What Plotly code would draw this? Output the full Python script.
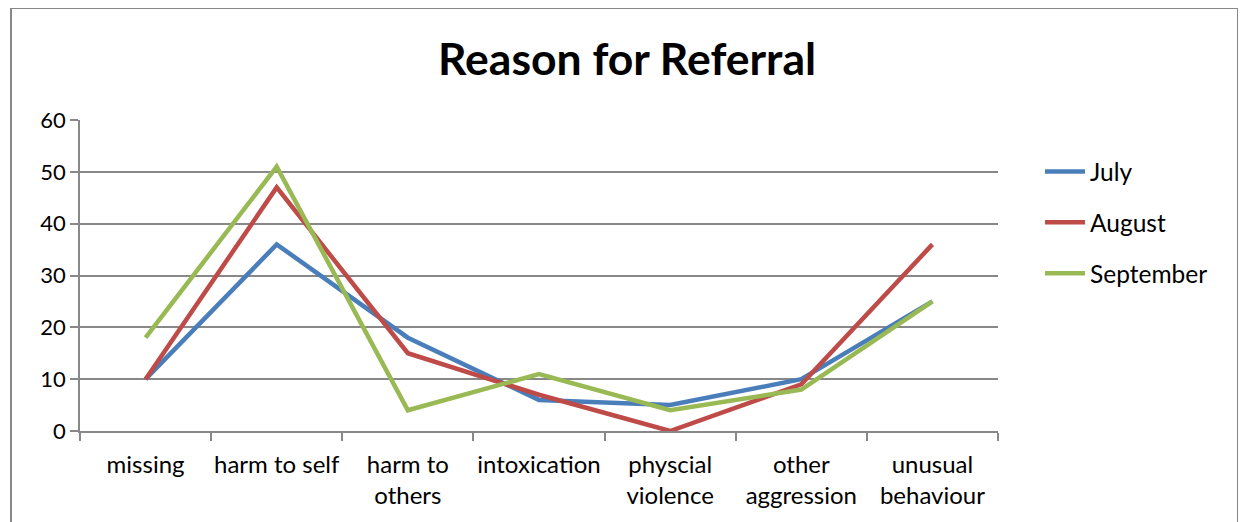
import plotly.graph_objects as go

categories = ["missing", "harm to self", "harm to<br>others", "intoxication",
              "physcial<br>violence", "other<br>aggression", "unusual<br>behaviour"]
july = [10, 36, 18, 6, 5, 10, 25]
august = [10, 47, 15, 7, 0, 9, 36]
september = [18, 51, 4, 11, 4, 8, 25]
series_names = ["July", "August", "September"]
colors = ["#4A7EBB", "#BE4B48", "#98B954"]

FONT = "Lato"
fig = go.Figure()
for i, (name, vals) in enumerate(zip(series_names, [july, august, september])):
    fig.add_trace(go.Scatter(x=categories, y=vals, mode="lines", name=name,
                             legendgroup=name,
                             line=dict(color=colors[i], width=4.5)))

grid = "#888888"
# page has an 8px body margin, so figure coords = page coords - 8
L, T, R, B = 72, 112, 990, 423
W, H = 1246, 522
pw, ph = R - L, B - T
fig.update_layout(
    width=W, height=H,
    margin=dict(l=L, r=W - R, t=T, b=H - B, autoexpand=False),
    paper_bgcolor="white", plot_bgcolor="white",
    title=dict(text="<b>Reason for Referral</b>", x=(619 - L) / pw, xanchor="center",
               xref="paper", y=1 - 51 / H, yanchor="middle",
               font=dict(family=FONT, size=44.5, color="black")),
    font=dict(family=FONT, size=22, color="black"),
    showlegend=True,
    legend=dict(x=(1032 - L) / pw, xanchor="left", y=(B - 141) / ph, yanchor="top",
                traceorder="grouped", tracegroupgap=16,
                font=dict(family=FONT, size=24.5, color="black"),
                itemwidth=40),
    xaxis=dict(type="category", showgrid=False, showline=True, linecolor=grid,
               linewidth=1.5, ticks="outside", tickson="boundaries", ticklen=8,
               tickcolor=grid, tickwidth=1.5, range=[-0.5, 6.5],
               ticklabelstandoff=11, tickangle=0, automargin=False,
               tickfont=dict(family=FONT, size=24)),
    yaxis=dict(range=[0, 60], dtick=10, showgrid=True, gridcolor=grid, gridwidth=1.5,
               showline=True, linecolor=grid, linewidth=1.5, ticks="outside",
               ticklen=8, tickcolor=grid, tickwidth=1.5, zeroline=False,
               automargin=False,
               tickfont=dict(family=FONT, size=22)),
    shapes=[dict(type="rect", xref="paper", yref="paper",
                 x0=(3 - L) / pw, x1=(1230 - L) / pw, y0=-0.5, y1=(B - 0) / ph,
                 line=dict(color="#888888", width=2), fillcolor="rgba(0,0,0,0)")],
)
fig.write_html("out.html")
